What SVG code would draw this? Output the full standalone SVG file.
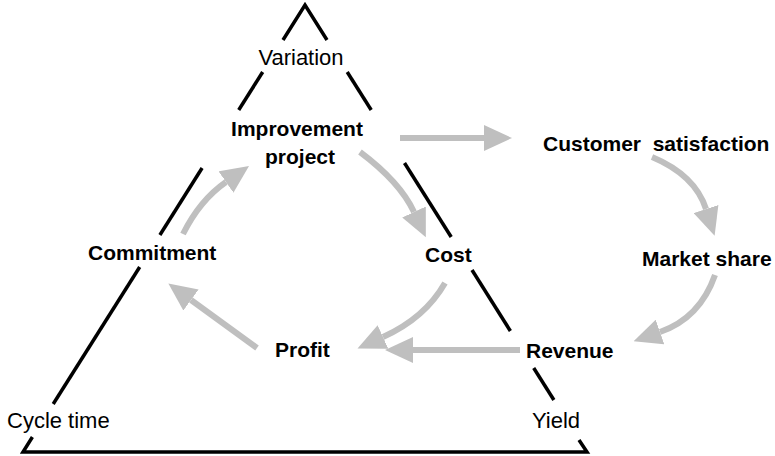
<svg xmlns="http://www.w3.org/2000/svg" width="775" height="456" viewBox="0 0 775 456">
<style>
.tri{fill:none;stroke:#000;stroke-width:3.5;stroke-linejoin:miter;stroke-linecap:butt}
.arr{fill:none;stroke:#bfbfbf;stroke-width:6;marker-end:url(#head)}
.lbl{font-family:"Liberation Sans",Arial,sans-serif;font-size:21px;font-weight:bold;fill:#000}
.reg{font-family:"Liberation Sans",Arial,sans-serif;font-size:22px;fill:#000}
</style>
<defs>
<marker id="head" viewBox="0 0 28 26" markerWidth="28" markerHeight="26" refX="0" refY="13" orient="auto" markerUnits="userSpaceOnUse">
<path d="M0,0 L28,13 L0,26 z" fill="#bfbfbf"/>
</marker>
</defs>
<rect width="775" height="456" fill="#fff"/>
<g id="triangle">
<path class="tri" d="M283,40 L305,5 L327,40"/>
<path class="tri" d="M262.7,72 L238.7,110"/>
<path class="tri" d="M202.1,168 L159.9,235"/>
<path class="tri" d="M139.7,267 L53.2,404"/>
<path class="tri" d="M347.2,72 L371.2,110"/>
<path class="tri" d="M404.5,163 L451.2,237"/>
<path class="tri" d="M472,270 L510.4,331"/>
<path class="tri" d="M533.7,368 L553.9,400"/>
<path class="tri" d="M32.4,437 L23,452 L587,452 L579,440"/>
</g>
<g id="connectors">
<path class="arr" d="M400,138 L484,138"/>
<path class="arr" d="M360,152 Q400,182 414,212"/>
<path class="arr" d="M183,234 Q200,200 226,182"/>
<path class="arr" d="M257,348 L191,300"/>
<path class="arr" d="M445,283 Q425,318 383,337"/>
<path class="arr" d="M520,350 L413,350"/>
<path class="arr" d="M652,157 Q695,175 706,209"/>
<path class="arr" d="M715,275 Q700,318 660,332"/>
</g>
<g id="variation"><text class="reg" x="301" y="65" text-anchor="middle">Variation</text></g>
<g id="improvement"><text class="lbl" x="297" y="136" text-anchor="middle">Improvement</text><text class="lbl" x="300" y="164" text-anchor="middle">project</text></g>
<g id="customer"><text class="lbl" x="543" y="151" xml:space="preserve">Customer  satisfaction</text></g>
<g id="commitment"><text class="lbl" x="88" y="260">Commitment</text></g>
<g id="cost"><text class="lbl" x="425" y="262">Cost</text></g>
<g id="market"><text class="lbl" x="642" y="266">Market share</text></g>
<g id="profit"><text class="lbl" x="275" y="357">Profit</text></g>
<g id="revenue"><text class="lbl" x="526" y="358">Revenue</text></g>
<g id="cycle"><text class="reg" x="7" y="428">Cycle time</text></g>
<g id="yield"><text class="reg" x="532" y="428">Yield</text></g>
</svg>
